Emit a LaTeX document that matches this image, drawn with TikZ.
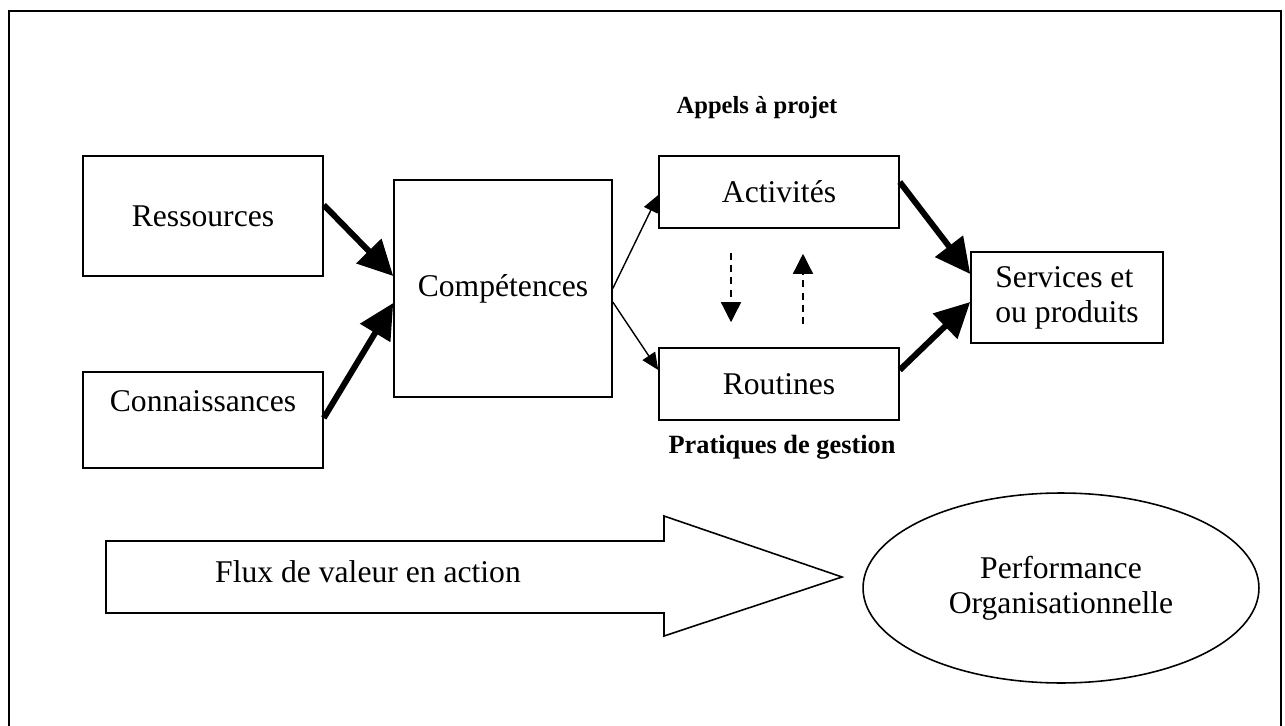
\documentclass[tikz,border=0pt]{standalone}
\usepackage{fontspec}
\setmainfont{Liberation Serif}
\usetikzlibrary{arrows.meta,positioning,shapes.geometric}

\begin{document}
\begin{tikzpicture}[
  x=0.02cm, y=-0.02cm,
  bloc/.style={rectangle, draw, line width=0.9pt, align=center, font=\fontsize{18}{20}\selectfont},
  grosse/.style={-{Triangle[length=0.7cm,width=0.68cm]}, line width=3.4pt},
  fine/.style={-{Triangle[length=0.34cm,width=0.3cm]}, line width=0.8pt},
  tiret/.style={-{Triangle[length=0.4cm,width=0.4cm]}, line width=0.8pt, dash pattern=on 4pt off 3pt},
  titre/.style={font=\bfseries\fontsize{14}{16}\selectfont}
]
  \useasboundingbox (0,0) rectangle (1285,726);
  % cadre ouvert en bas
  \draw[line width=1.1pt] (9,726) -- (9,11) -- (1281,11) -- (1281,726);

  \node[bloc, minimum width=4.8cm, minimum height=2.4cm] (res) at (203,216) {Ressources};
  \node[bloc, minimum width=4.8cm, minimum height=1.92cm, text depth=0.76cm] (con) at (203,420) {Connaissances};
  \node[bloc, minimum width=4.36cm, minimum height=4.34cm] (comp) at (503,288.5) {Compétences};
  \node[bloc, minimum width=4.8cm, minimum height=1.44cm] (act) at (779,192) {Activités};
  \node[bloc, minimum width=4.8cm, minimum height=1.44cm] (rout) at (779,384) {Routines};
  \node[bloc, align=left, minimum width=3.84cm, minimum height=1.82cm] (serv) at (1067,297.5) {Services et\\ou produits};
  \node[bloc, ellipse, minimum width=7.92cm, minimum height=3.8cm] (perf) at (1061,588) {Performance\\Organisationnelle};

  \node[titre] (appels) at (757,108) {Appels à projet};
  \node[titre, font=\bfseries\fontsize{15}{17}\selectfont] (prat) at (782,447) {Pratiques de gestion};

  \draw[grosse] ([yshift=0.22cm]res.east) -- ([yshift=0.25cm]comp.west);
  \draw[grosse] ([yshift=0.04cm]con.east) -- ([yshift=-0.29cm]comp.west);
  \draw[fine] (comp.east) -- ([yshift=-0.06cm]act.west);
  \draw[fine] ([yshift=-0.27cm]comp.east) -- ([yshift=0.28cm]rout.west);
  \draw[tiret] ([xshift=-0.96cm,yshift=-0.48cm]act.south) -- ([xshift=-0.96cm,yshift=0.5cm]rout.north);
  \draw[tiret] ([xshift=0.48cm,yshift=0.46cm]rout.north) -- ([xshift=0.48cm,yshift=-0.5cm]act.south);
  \draw[grosse] ([yshift=0.2cm]act.east) -- ([yshift=0.47cm]serv.west);
  \draw[grosse] ([yshift=0.28cm]rout.east) -- ([yshift=-0.09cm]serv.west);

  % fleche de flux
  \draw[line width=0.9pt] (106,541) -- (664,541) -- (664,516) -- (842,577) -- (664,636) -- (664,613) -- (106,613) -- cycle;
  \node[font=\fontsize{18}{20}\selectfont] (flux) at (368,572) {Flux de valeur en action};
\end{tikzpicture}
\end{document}
